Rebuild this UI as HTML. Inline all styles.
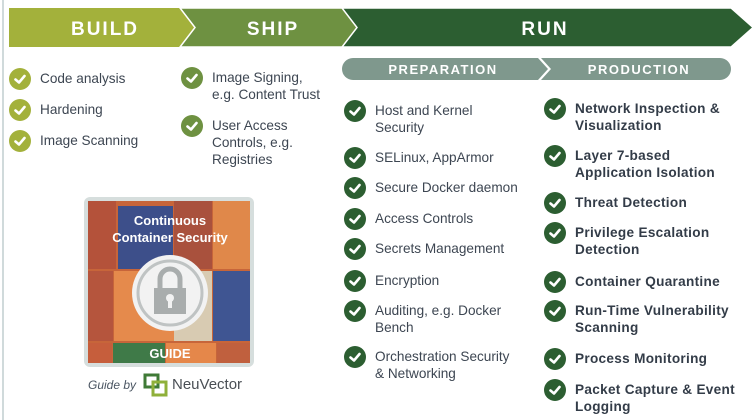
<!DOCTYPE html>
<html><head><meta charset="utf-8"><style>
body{margin:0;width:756px;height:420px;overflow:hidden;background:#fff;font-family:"Liberation Sans",sans-serif;position:relative}
.t{position:absolute;font-size:13.6px;line-height:17px;color:#3d4652;white-space:nowrap}
.b{font-weight:bold;color:#333c48;font-size:13.6px;letter-spacing:0.3px}
.c{position:absolute;width:22px;height:22px;border-radius:50%}
.c svg{position:absolute;left:0;top:0}
</style></head><body>
<div style="position:absolute;left:2px;top:0;width:2px;height:420px;background:#d0dadb"></div>
<svg width="756" height="90" style="position:absolute;left:0;top:0">
<polygon points="9,8 190,8 205,27.5 190,47 9,47" fill="#a3b13b"/>
<polygon points="180,8 345,8 360,27.5 345,47 180,47 195,27.5" fill="#6e9141" stroke="#fff" stroke-width="1.5"/>
<polygon points="342,8 731,8 753,27.5 731,47 342,47 357,27.5" fill="#2c5e31" stroke="#fff" stroke-width="1.5"/>
<text x="105" y="35" font-family="Liberation Sans" font-weight="bold" font-size="19" fill="#fff" text-anchor="middle" letter-spacing="2">BUILD</text>
<text x="273" y="35" font-family="Liberation Sans" font-weight="bold" font-size="19" fill="#fff" text-anchor="middle" letter-spacing="2">SHIP</text>
<text x="545" y="35" font-family="Liberation Sans" font-weight="bold" font-size="19" fill="#fff" text-anchor="middle" letter-spacing="2">RUN</text>
<path d="M353,58 H538 L548,69 L538,80 H353 A11,11 0 0 1 353,58Z" fill="#7f988d"/>
<path d="M541,58 H720 A11,11 0 0 1 720,80 H541 L551,69Z" fill="#7f988d"/>
<text x="443" y="74" font-family="Liberation Sans" font-weight="bold" font-size="13" fill="#fff" text-anchor="middle" letter-spacing="1.5">PREPARATION</text>
<text x="639" y="74" font-family="Liberation Sans" font-weight="bold" font-size="13" fill="#fff" text-anchor="middle" letter-spacing="1.5">PRODUCTION</text>
</svg>
<div id="items"></div>
<svg width="170" height="172" style="position:absolute;left:84px;top:197px">
<rect x="0" y="0" width="170" height="170" rx="6" fill="#d6dedd"/>
<g transform="translate(4,4)">
<rect width="162" height="162" fill="#c7653a"/>
<rect x="0" y="0" width="28" height="68" fill="#b4523a"/>
<rect x="30" y="5" width="55" height="63" fill="#3d4f8a"/>
<rect x="86" y="0" width="38" height="68" fill="#a9513d"/>
<rect x="125" y="0" width="37" height="68" fill="#e0884a"/>
<rect x="0" y="70" width="25" height="70" fill="#b5553d"/>
<rect x="26" y="70" width="60" height="70" fill="#e58a4c"/>
<rect x="86" y="70" width="38" height="70" fill="#d8cbb2"/>
<rect x="125" y="70" width="37" height="70" fill="#3f5592"/>
<rect x="0" y="142" width="24" height="20" fill="#c65e3c"/>
<rect x="25" y="142" width="52" height="20" fill="#3f7a48"/>
<rect x="78" y="142" width="50" height="20" fill="#e5874a"/>
<rect x="129" y="142" width="33" height="20" fill="#c0603e"/>
<circle cx="82" cy="92" r="38" fill="#f2f2f2"/>
<circle cx="82" cy="92" r="32" fill="none" stroke="#bfc3c3" stroke-width="3"/>
<path d="M72,88 V78 a10,10 0 0 1 20,0 V88" fill="none" stroke="#a9adad" stroke-width="5"/>
<rect x="66" y="87" width="32" height="26" fill="#a9adad"/>
<circle cx="82" cy="97" r="4" fill="#f2f2f2"/><rect x="80" y="98" width="4" height="9" fill="#f2f2f2"/>
<text x="82" y="24" font-family="Liberation Sans" font-weight="bold" font-size="13" fill="#fff" text-anchor="middle">Continuous</text>
<text x="82" y="41" font-family="Liberation Sans" font-weight="bold" font-size="13" fill="#fff" text-anchor="middle">Container Security</text>
<text x="82" y="157" font-family="Liberation Sans" font-weight="bold" font-size="13" fill="#fff" text-anchor="middle">GUIDE</text>
</g></svg>
<div class="t" style="left:88px;top:377px;font-style:italic;font-size:12px;color:#4a5562">Guide by</div>
<svg width="26" height="26" style="position:absolute;left:143px;top:372px">
<rect x="2" y="3" width="13" height="12" fill="none" stroke="#3f7a36" stroke-width="3"/>
<rect x="10" y="10" width="13" height="13" fill="none" stroke="#8fb03a" stroke-width="3"/>
</svg>
<div class="t" style="left:172px;top:376px;font-size:15px;color:#4a4f55">NeuVector</div>
<script>
var chk='<svg width="22" height="22"><path d="M6.5,11.5 L10,14.5 L15.5,8" fill="none" stroke="#fff" stroke-width="2.6" stroke-linecap="round" stroke-linejoin="round"/></svg>';
var L=[
[20,79,'#a3b13b','Code analysis',0],[20,110,'#a3b13b','Hardening',0],[20,141,'#a3b13b','Image Scanning',0],
[192,78,'#6e9141','Image Signing,<br>e.g. Content Trust',0],[192,126,'#6e9141','User Access<br>Controls, e.g.<br>Registries',0],
[355,111,'#2c5e31','Host and Kernel<br>Security',0],[355,158,'#2c5e31','SELinux, AppArmor',0],[355,188,'#2c5e31','Secure Docker daemon',0],
[355,219,'#2c5e31','Access Controls',0],[355,249,'#2c5e31','Secrets Management',0],[355,281,'#2c5e31','Encryption',0],
[355,311,'#2c5e31','Auditing, e.g. Docker<br>Bench',0],[355,357,'#2c5e31','Orchestration Security<br>&amp; Networking',0],
[555,109,'#2c5e31','Network Inspection &amp;<br>Visualization',1],[555,156,'#2c5e31','Layer 7-based<br>Application Isolation',1],
[555,203,'#2c5e31','Threat Detection',1],[555,233,'#2c5e31','Privilege Escalation<br>Detection',1],[555,282,'#2c5e31','Container Quarantine',1],
[555,311,'#2c5e31','Run-Time Vulnerability<br>Scanning',1],[555,359,'#2c5e31','Process Monitoring',1],[555,390,'#2c5e31','Packet Capture &amp; Event<br>Logging',1]];
var h='';L.forEach(function(a){h+='<div class="c" style="left:'+(a[0]-11)+'px;top:'+(a[1]-11)+'px;background:'+a[2]+'">'+chk+'</div>';
h+='<div class="t'+(a[4]?' b':'')+'" style="left:'+(a[0]+20)+'px;top:'+(a[1]-9)+'px">'+a[3]+'</div>';});
document.getElementById('items').innerHTML=h;
</script>
</body></html>
